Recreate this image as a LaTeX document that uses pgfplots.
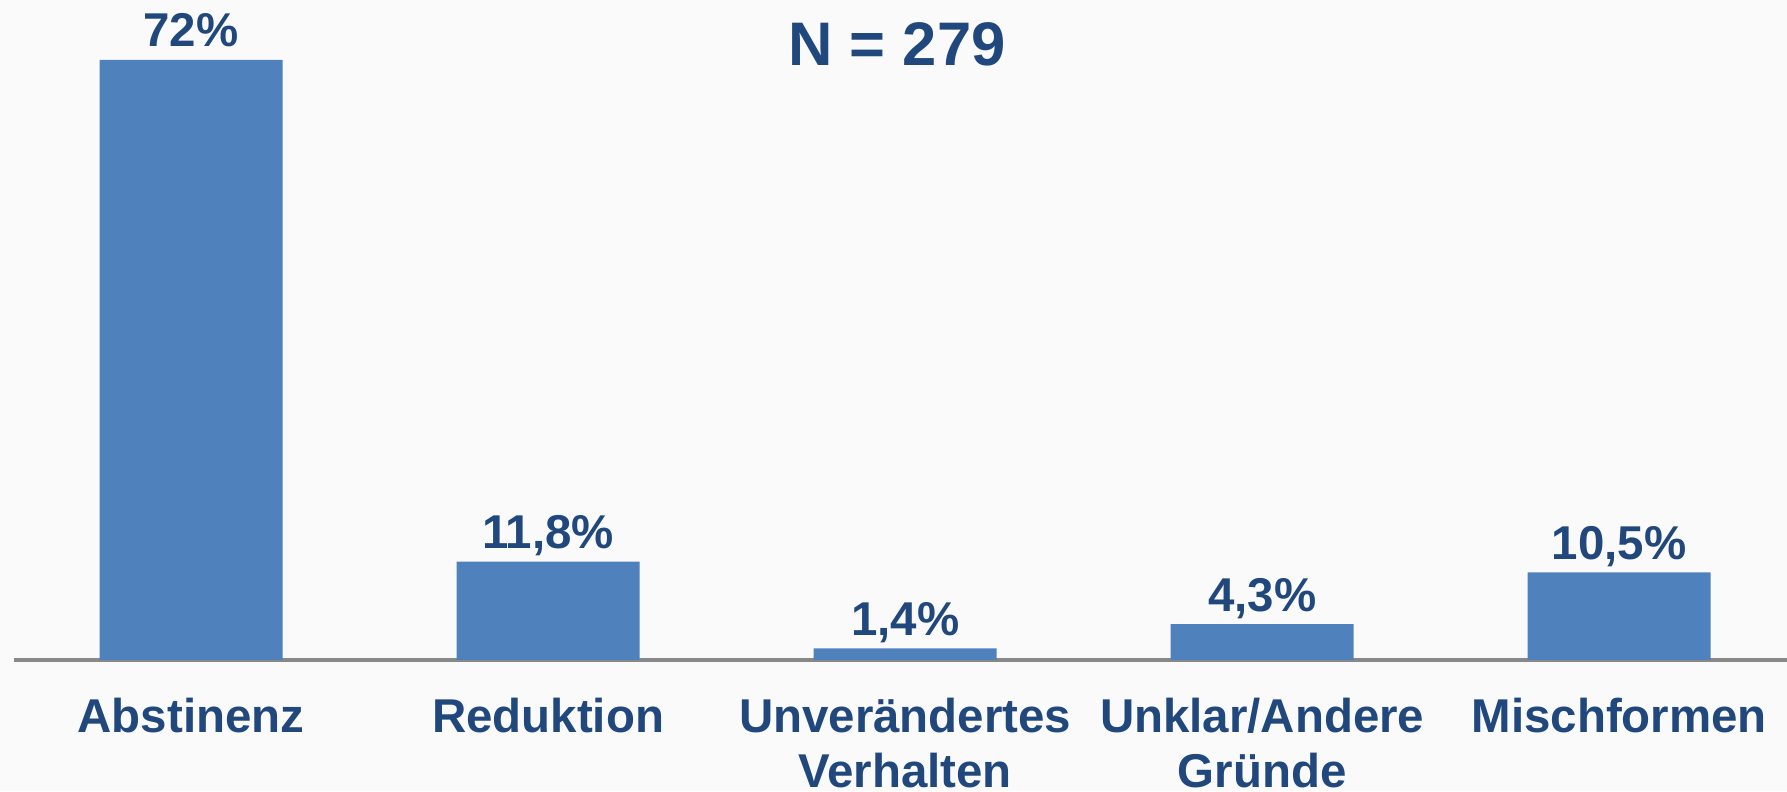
\documentclass[border=0pt]{standalone}
\usepackage{pgfplots}
\pgfplotsset{compat=1.18}
\usepackage{fontspec}
\setmainfont{Liberation Sans}
\definecolor{barblue}{RGB}{79,129,189}
\definecolor{txtblue}{RGB}{33,72,125}
\definecolor{bg}{RGB}{250,250,250}
\definecolor{axgray}{RGB}{136,136,136}
\begin{document}
\begin{tikzpicture}
\useasboundingbox (0,0) rectangle (17.87cm,7.91cm);
\fill[bg] (0,0) rectangle (17.87cm,7.91cm);
\node[anchor=base, font=\fontsize{17.5}{20}\selectfont\bfseries, text=txtblue, inner sep=0] at (8.97cm,7.25cm) {N = 279};
\begin{axis}[
  at={(0.14cm,1.31cm)}, anchor=south west,
  scale only axis, width=17.73cm, height=6.6cm,
  xmin=-0.496, xmax=4.47, ymin=0, ymax=79.2,
  axis x line=bottom, axis y line=none,
  x axis line style={draw=axgray, line width=1.2pt, -},
  xtick={0,1,2,3,4},
  xticklabels={Abstinenz,Reduktion,{Unverändertes\\Verhalten},{Unklar/Andere\\Gründe},Mischformen},
  xtick style={draw=none},
  major tick length=0pt,
  xticklabel style={font=\fontsize{13.5}{15.8}\selectfont\bfseries, text=txtblue, align=center, anchor=north, inner sep=0pt, yshift=-3.7mm},
  ytick=\empty,
  clip=false,
]
\addplot[ybar, bar width=18.3mm, fill=barblue, draw=none,
  point meta=explicit symbolic,
  nodes near coords,
  every node near coord/.append style={font=\fontsize{13.5}{16}\selectfont\bfseries, text=txtblue, anchor=base, inner sep=0pt, yshift=1.3mm}]
coordinates {(0,72) [72\%] (1,11.8) [11,8\%] (2,1.4) [1,4\%] (3,4.3) [4,3\%] (4,10.5) [10,5\%]};
\end{axis}
\end{tikzpicture}
\end{document}
